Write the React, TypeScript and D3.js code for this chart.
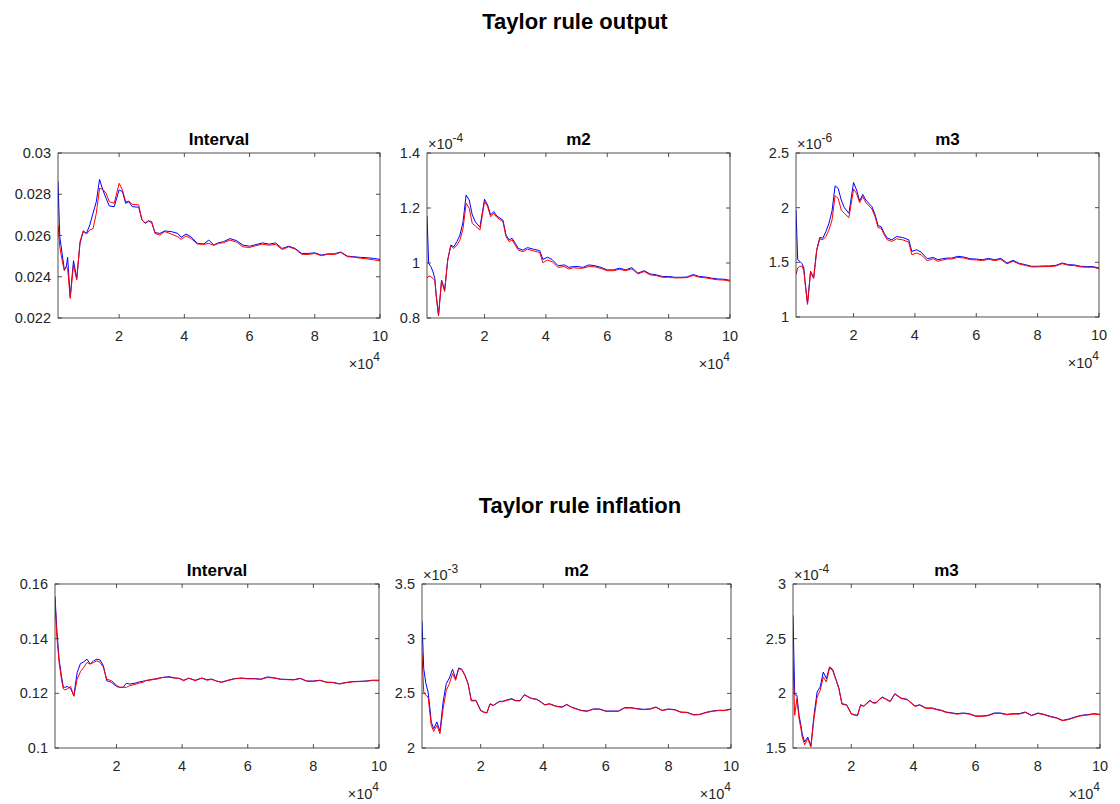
import React from 'react';
import * as d3 from 'd3';

// Sample sizes at which the statistics were recorded
const SAMPLE_SIZE = [
  1250, 1800, 2500, 3200, 3800, 4200, 5000, 6000, 7000, 8000,
  9000, 10000, 11000, 12000, 13000, 14000, 15000, 16000, 17000, 18500,
  20000, 21000, 22000, 23000, 24000, 26000, 27000, 28000, 29000, 30000,
  31000, 32500, 34000, 36000, 38000, 39000, 40500, 42000, 44000, 46000,
  47500, 49000, 50500, 52000, 54000, 56000, 58000, 60000, 62000, 64000,
  66000, 68000, 70000, 72000, 74000, 76000, 78000, 80000, 82000, 84000,
  86000, 88000, 90000, 92000, 94000, 96000, 98000, 100000,
];

// Taylor rule output
const OUT_INTERVAL_BLUE = [
  0.02861, 0.02594, 0.02514, 0.02433, 0.0245, 0.02494, 0.02303, 0.02478, 0.02392, 0.02562,
  0.02619, 0.02611, 0.02651, 0.02708, 0.02764, 0.02872, 0.02821, 0.0278, 0.02743, 0.0274,
  0.02821, 0.02813, 0.02756, 0.02764, 0.0274, 0.02737, 0.02675, 0.02659, 0.0267, 0.02662,
  0.02614, 0.0261, 0.02622, 0.02619, 0.0261, 0.02591, 0.02607, 0.02594, 0.02562, 0.02559,
  0.02578, 0.02554, 0.02565, 0.0257, 0.02585, 0.02575, 0.02553, 0.02548, 0.02556, 0.02564,
  0.02558, 0.02564, 0.02537, 0.02548, 0.02537, 0.02513, 0.02513, 0.02516, 0.02505, 0.02511,
  0.02511, 0.0252, 0.025, 0.02497, 0.02494, 0.02492, 0.02489, 0.02484,
];
const OUT_INTERVAL_RED = [
  0.02651, 0.02546, 0.02481, 0.0243, 0.02449, 0.02441, 0.02295, 0.02457, 0.02384, 0.0257,
  0.02624, 0.02607, 0.02627, 0.02633, 0.02708, 0.02829, 0.02824, 0.02804, 0.02764, 0.02756,
  0.02853, 0.02821, 0.02764, 0.02767, 0.02751, 0.02748, 0.02675, 0.02662, 0.02672, 0.02667,
  0.0261, 0.02602, 0.02619, 0.02607, 0.02594, 0.02581, 0.02598, 0.02586, 0.02559, 0.02557,
  0.02562, 0.02552, 0.02562, 0.02565, 0.02578, 0.02568, 0.02545, 0.02542, 0.02551, 0.02558,
  0.02553, 0.02557, 0.02532, 0.02545, 0.02534, 0.02509, 0.02508, 0.02513, 0.02502, 0.02509,
  0.02508, 0.02518, 0.02497, 0.02495, 0.0249, 0.02487, 0.02482, 0.02478,
];
// m2, in units of 1e-4
const OUT_M2_BLUE = [
  1.171, 0.999, 0.987, 0.968, 0.944, 0.89, 0.811, 0.938, 0.902, 1.011,
  1.065, 1.059, 1.078, 1.102, 1.15, 1.247, 1.229, 1.175, 1.15, 1.13,
  1.232, 1.211, 1.175, 1.187, 1.171, 1.156, 1.102, 1.084, 1.09, 1.072,
  1.053, 1.047, 1.056, 1.05, 1.045, 1.013, 1.021, 1.013, 0.99, 0.993,
  0.984, 0.987, 0.987, 0.984, 0.993, 0.99, 0.984, 0.975, 0.975, 0.981,
  0.975, 0.983, 0.963, 0.972, 0.96, 0.957, 0.951, 0.951, 0.948, 0.948,
  0.949, 0.958, 0.951, 0.949, 0.945, 0.942, 0.941, 0.937,
];
const OUT_M2_RED = [
  0.944, 0.953, 0.95, 0.944, 0.936, 0.884, 0.807, 0.936, 0.896, 1.011,
  1.062, 1.053, 1.065, 1.084, 1.126, 1.217, 1.199, 1.144, 1.135, 1.12,
  1.223, 1.205, 1.168, 1.181, 1.166, 1.15, 1.096, 1.078, 1.084, 1.065,
  1.047, 1.041, 1.05, 1.044, 1.038, 1.001, 1.011, 1.005, 0.984, 0.987,
  0.978, 0.983, 0.981, 0.981, 0.987, 0.986, 0.98, 0.972, 0.972, 0.977,
  0.972, 0.979, 0.96, 0.969, 0.957, 0.954, 0.948, 0.948, 0.946, 0.946,
  0.947, 0.955, 0.948, 0.946, 0.942, 0.939, 0.938, 0.934,
];
// m3, in units of 1e-6
const OUT_M3_BLUE = [
  1.979, 1.524, 1.509, 1.488, 1.448, 1.327, 1.121, 1.418, 1.358, 1.615,
  1.727, 1.721, 1.782, 1.858, 1.97, 2.2, 2.176, 2.07, 2.0, 1.948,
  2.23, 2.161, 2.061, 2.121, 2.07, 2.009, 1.939, 1.836, 1.827, 1.767,
  1.721, 1.706, 1.736, 1.727, 1.706, 1.6, 1.615, 1.594, 1.533, 1.545,
  1.524, 1.533, 1.539, 1.539, 1.555, 1.548, 1.533, 1.53, 1.524, 1.536,
  1.524, 1.536, 1.494, 1.518, 1.491, 1.479, 1.464, 1.464, 1.467, 1.467,
  1.473, 1.494, 1.479, 1.476, 1.464, 1.461, 1.461, 1.448,
];
const OUT_M3_RED = [
  1.388, 1.448, 1.464, 1.464, 1.424, 1.312, 1.115, 1.412, 1.352, 1.606,
  1.715, 1.706, 1.736, 1.797, 1.888, 2.109, 2.085, 1.979, 1.948, 1.909,
  2.17, 2.13, 2.045, 2.1, 2.048, 1.988, 1.918, 1.818, 1.812, 1.752,
  1.706, 1.691, 1.715, 1.706, 1.685, 1.57, 1.585, 1.57, 1.515, 1.533,
  1.509, 1.521, 1.53, 1.53, 1.545, 1.54, 1.525, 1.522, 1.516, 1.528,
  1.516, 1.527, 1.486, 1.51, 1.484, 1.472, 1.458, 1.458, 1.461, 1.461,
  1.467, 1.488, 1.473, 1.47, 1.458, 1.455, 1.455, 1.442,
];

// Taylor rule inflation
const INF_INTERVAL_BLUE = [
  0.1555, 0.1434, 0.1325, 0.1264, 0.1222, 0.1222, 0.1225, 0.1218, 0.1192, 0.1276,
  0.1309, 0.1315, 0.1325, 0.1307, 0.1319, 0.1325, 0.1322, 0.1301, 0.1246, 0.124,
  0.1225, 0.1222, 0.1222, 0.1237, 0.1234, 0.1238, 0.1242, 0.1244, 0.1246, 0.125,
  0.125, 0.1255, 0.1258, 0.1261, 0.1256, 0.1255, 0.1248, 0.1255, 0.1248, 0.1256,
  0.125, 0.1252, 0.1245, 0.1241, 0.1248, 0.1254, 0.1256, 0.1254, 0.1254, 0.1252,
  0.126, 0.1257, 0.1252, 0.1251, 0.125, 0.1255, 0.1245, 0.1245, 0.1248, 0.1241,
  0.124, 0.1235, 0.124, 0.1243, 0.1244, 0.1245, 0.1248, 0.1248,
];
const INF_INTERVAL_RED = [
  0.1543, 0.141, 0.1313, 0.1252, 0.1216, 0.1213, 0.1216, 0.1225, 0.1189, 0.1252,
  0.1279, 0.1295, 0.1313, 0.1307, 0.1313, 0.1319, 0.1313, 0.1295, 0.1252, 0.1246,
  0.123, 0.1222, 0.1222, 0.1222, 0.1228, 0.1234, 0.1238, 0.124, 0.1248, 0.1246,
  0.1252, 0.1252, 0.1258, 0.1259, 0.1255, 0.1255, 0.1246, 0.1256, 0.1246, 0.1256,
  0.1248, 0.1251, 0.1245, 0.124, 0.1247, 0.1253, 0.1255, 0.1253, 0.1253, 0.1251,
  0.1258, 0.1256, 0.1251, 0.125, 0.1249, 0.1254, 0.1244, 0.1244, 0.1247, 0.124,
  0.1239, 0.1234, 0.1239, 0.1242, 0.1243, 0.1244, 0.1247, 0.1246,
];
// m2, in units of 1e-3
const INF_M2_BLUE = [
  3.159, 2.726, 2.588, 2.512, 2.36, 2.238, 2.177, 2.238, 2.152, 2.421,
  2.588, 2.64, 2.72, 2.634, 2.732, 2.72, 2.665, 2.588, 2.436, 2.436,
  2.345, 2.329, 2.323, 2.405, 2.39, 2.427, 2.427, 2.436, 2.445, 2.451,
  2.436, 2.433, 2.488, 2.457, 2.445, 2.427, 2.396, 2.405, 2.384, 2.375,
  2.399, 2.375, 2.36, 2.345, 2.338, 2.357, 2.357, 2.338, 2.338, 2.338,
  2.369, 2.369, 2.36, 2.354, 2.357, 2.375, 2.345, 2.357, 2.351, 2.329,
  2.326, 2.305, 2.308, 2.326, 2.338, 2.345, 2.345, 2.357,
];
const INF_M2_RED = [
  2.863, 2.512, 2.482, 2.466, 2.314, 2.207, 2.152, 2.207, 2.131, 2.36,
  2.527, 2.588, 2.68, 2.619, 2.726, 2.715, 2.66, 2.582, 2.43, 2.432,
  2.341, 2.326, 2.32, 2.401, 2.387, 2.424, 2.424, 2.432, 2.44, 2.446,
  2.432, 2.43, 2.485, 2.454, 2.442, 2.424, 2.393, 2.402, 2.381, 2.372,
  2.396, 2.372, 2.357, 2.342, 2.335, 2.354, 2.354, 2.335, 2.335, 2.335,
  2.365, 2.366, 2.357, 2.351, 2.354, 2.372, 2.342, 2.354, 2.348, 2.326,
  2.323, 2.302, 2.305, 2.323, 2.335, 2.342, 2.342, 2.354,
];
// m3, in units of 1e-4
const INF_M3_BLUE = [
  2.713, 1.988, 1.982, 1.799, 1.707, 1.631, 1.555, 1.601, 1.518, 1.799,
  2.012, 2.058, 2.195, 2.134, 2.241, 2.22, 2.134, 2.049, 1.905, 1.896,
  1.814, 1.805, 1.799, 1.896, 1.884, 1.936, 1.915, 1.915, 1.945, 1.966,
  1.951, 1.927, 1.997, 1.957, 1.945, 1.921, 1.884, 1.896, 1.866, 1.866,
  1.854, 1.845, 1.829, 1.823, 1.814, 1.82, 1.814, 1.793, 1.793, 1.799,
  1.82, 1.82, 1.808, 1.814, 1.814, 1.829, 1.799, 1.82, 1.808, 1.79,
  1.777, 1.753, 1.765, 1.784, 1.799, 1.805, 1.814, 1.808,
];
const INF_M3_RED = [
  2.317, 1.799, 1.951, 1.768, 1.677, 1.601, 1.53, 1.585, 1.509, 1.768,
  1.966, 2.027, 2.149, 2.104, 2.232, 2.21, 2.128, 2.043, 1.9, 1.892,
  1.81, 1.801, 1.795, 1.892, 1.88, 1.932, 1.911, 1.911, 1.941, 1.962,
  1.947, 1.923, 1.993, 1.953, 1.941, 1.917, 1.88, 1.892, 1.862, 1.862,
  1.85, 1.841, 1.825, 1.819, 1.81, 1.816, 1.81, 1.789, 1.789, 1.795,
  1.816, 1.816, 1.804, 1.81, 1.81, 1.825, 1.795, 1.816, 1.804, 1.786,
  1.773, 1.749, 1.761, 1.78, 1.795, 1.801, 1.81, 1.804,
];

// Axis ticks
const X_TICKS = [20000, 40000, 60000, 80000, 100000];
const X_EXPONENT = 4;
const Y_TICKS_OUT_INTERVAL = [0.022, 0.024, 0.026, 0.028, 0.03];
const Y_TICKS_OUT_M2 = [0.8, 1, 1.2, 1.4];
const Y_TICKS_OUT_M3 = [1, 1.5, 2, 2.5];
const Y_TICKS_INF_INTERVAL = [0.1, 0.12, 0.14, 0.16];
const Y_TICKS_INF_M2 = [2, 2.5, 3, 3.5];
const Y_TICKS_INF_M3 = [1.5, 2, 2.5, 3];

const ROW_TITLES = ['Taylor rule output', 'Taylor rule inflation'];
const PANEL_TITLES = ['Interval', 'm2', 'm3'];

const FONT = '"Liberation Sans", Arial, Helvetica, sans-serif';
const INK = '#262626';
const TICK_FONT = 14.5;
const SUP_FONT = 12;

type PanelSpec = {
  title: string;
  blue: number[];
  red: number[];
  yTicks: number[];
  yExp: number | null;
  x0: number;
  x1: number;
  y0: number;
  y1: number;
};

const PANELS: PanelSpec[] = [
  { title: PANEL_TITLES[0], blue: OUT_INTERVAL_BLUE, red: OUT_INTERVAL_RED, yTicks: Y_TICKS_OUT_INTERVAL, yExp: null, x0: 58, x1: 380, y0: 153, y1: 318 },
  { title: PANEL_TITLES[1], blue: OUT_M2_BLUE, red: OUT_M2_RED, yTicks: Y_TICKS_OUT_M2, yExp: -4, x0: 427, x1: 730, y0: 153, y1: 318 },
  { title: PANEL_TITLES[2], blue: OUT_M3_BLUE, red: OUT_M3_RED, yTicks: Y_TICKS_OUT_M3, yExp: -6, x0: 796, x1: 1099, y0: 153, y1: 317 },
  { title: PANEL_TITLES[0], blue: INF_INTERVAL_BLUE, red: INF_INTERVAL_RED, yTicks: Y_TICKS_INF_INTERVAL, yExp: null, x0: 55, x1: 379, y0: 584, y1: 748 },
  { title: PANEL_TITLES[1], blue: INF_M2_BLUE, red: INF_M2_RED, yTicks: Y_TICKS_INF_M2, yExp: -3, x0: 422, x1: 731, y0: 584, y1: 748 },
  { title: PANEL_TITLES[2], blue: INF_M3_BLUE, red: INF_M3_RED, yTicks: Y_TICKS_INF_M3, yExp: -4, x0: 793, x1: 1100, y0: 584, y1: 748 },
];

const fmt = (v: number) => String(+v.toFixed(6));

function Subplot({ p, id }: { p: PanelSpec; id: number }) {
  const x = d3.scaleLinear().domain([SAMPLE_SIZE[0], SAMPLE_SIZE[SAMPLE_SIZE.length - 1]]).range([p.x0, p.x1]);
  const y = d3
    .scaleLinear()
    .domain([p.yTicks[0], p.yTicks[p.yTicks.length - 1]])
    .range([p.y1, p.y0]);
  const line = d3
    .line<number>()
    .x((_, i) => x(SAMPLE_SIZE[i]))
    .y((d) => y(d));
  const tickLen = 4;
  const clipId = `clip-${id}`;
  const cx = (p.x0 + p.x1) / 2;
  const scale = Math.pow(10, X_EXPONENT);

  return (
    <g>
      <defs>
        <clipPath id={clipId}>
          <rect x={p.x0} y={p.y0} width={p.x1 - p.x0} height={p.y1 - p.y0} />
        </clipPath>
      </defs>
      <rect x={p.x0} y={p.y0} width={p.x1 - p.x0} height={p.y1 - p.y0} fill="#fff" />
      <g clipPath={`url(#${clipId})`}>
        <path d={line(p.blue) || ''} fill="none" stroke="#0000ff" strokeWidth={1} strokeLinejoin="round" />
        <path d={line(p.red) || ''} fill="none" stroke="#ff0000" strokeWidth={1} strokeLinejoin="round" />
      </g>
      {/* box and inward ticks */}
      <rect x={p.x0} y={p.y0} width={p.x1 - p.x0} height={p.y1 - p.y0} fill="none" stroke={INK} strokeWidth={0.8} />
      {X_TICKS.map((t) => (
        <g key={`xt${t}`}>
          <line x1={x(t)} x2={x(t)} y1={p.y1} y2={p.y1 - tickLen} stroke={INK} strokeWidth={0.8} />
          <line x1={x(t)} x2={x(t)} y1={p.y0} y2={p.y0 + tickLen} stroke={INK} strokeWidth={0.8} />
          <text x={x(t)} y={p.y1 + 23} textAnchor="middle" fontSize={TICK_FONT} fill={INK} fontFamily={FONT}>
            {fmt(t / scale)}
          </text>
        </g>
      ))}
      {p.yTicks.map((t) => (
        <g key={`yt${t}`}>
          <line x1={p.x0} x2={p.x0 + tickLen} y1={y(t)} y2={y(t)} stroke={INK} strokeWidth={0.8} />
          <line x1={p.x1} x2={p.x1 - tickLen} y1={y(t)} y2={y(t)} stroke={INK} strokeWidth={0.8} />
          <text x={p.x0 - 7} y={y(t)} dy="0.35em" textAnchor="end" fontSize={TICK_FONT} fill={INK} fontFamily={FONT}>
            {fmt(t)}
          </text>
        </g>
      ))}
      <text x={cx} y={p.y0 - 8} textAnchor="middle" fontSize={17} fontWeight="bold" fill="#000" fontFamily={FONT}>
        {p.title}
      </text>
      {p.yExp !== null && (
        <text x={p.x0 + 1} y={p.y0 - 4} fontSize={TICK_FONT} fill={INK} fontFamily={FONT}>
          ×10
          <tspan fontSize={SUP_FONT} dy={-7}>
            {String(p.yExp)}
          </tspan>
        </text>
      )}
      <text x={p.x1} y={p.y1 + 51} textAnchor="end" fontSize={TICK_FONT} fill={INK} fontFamily={FONT}>
        ×10
        <tspan fontSize={SUP_FONT} dy={-8}>
          {String(X_EXPONENT)}
        </tspan>
      </text>
    </g>
  );
}

export default function App() {
  return (
    <svg
      width={1120}
      height={804}
      viewBox="0 0 1120 804"
      style={{ position: 'absolute', left: 0, top: 0, background: '#fff' }}
    >
      <rect x={0} y={0} width={1120} height={804} fill="#fff" />
      <text x={575} y={29} textAnchor="middle" fontSize={22} fontWeight="bold" fill="#000" fontFamily={FONT}>
        {ROW_TITLES[0]}
      </text>
      <text x={580} y={513} textAnchor="middle" fontSize={22} fontWeight="bold" fill="#000" fontFamily={FONT}>
        {ROW_TITLES[1]}
      </text>
      {PANELS.map((p, i) => (
        <Subplot key={i} p={p} id={i} />
      ))}
    </svg>
  );
}
